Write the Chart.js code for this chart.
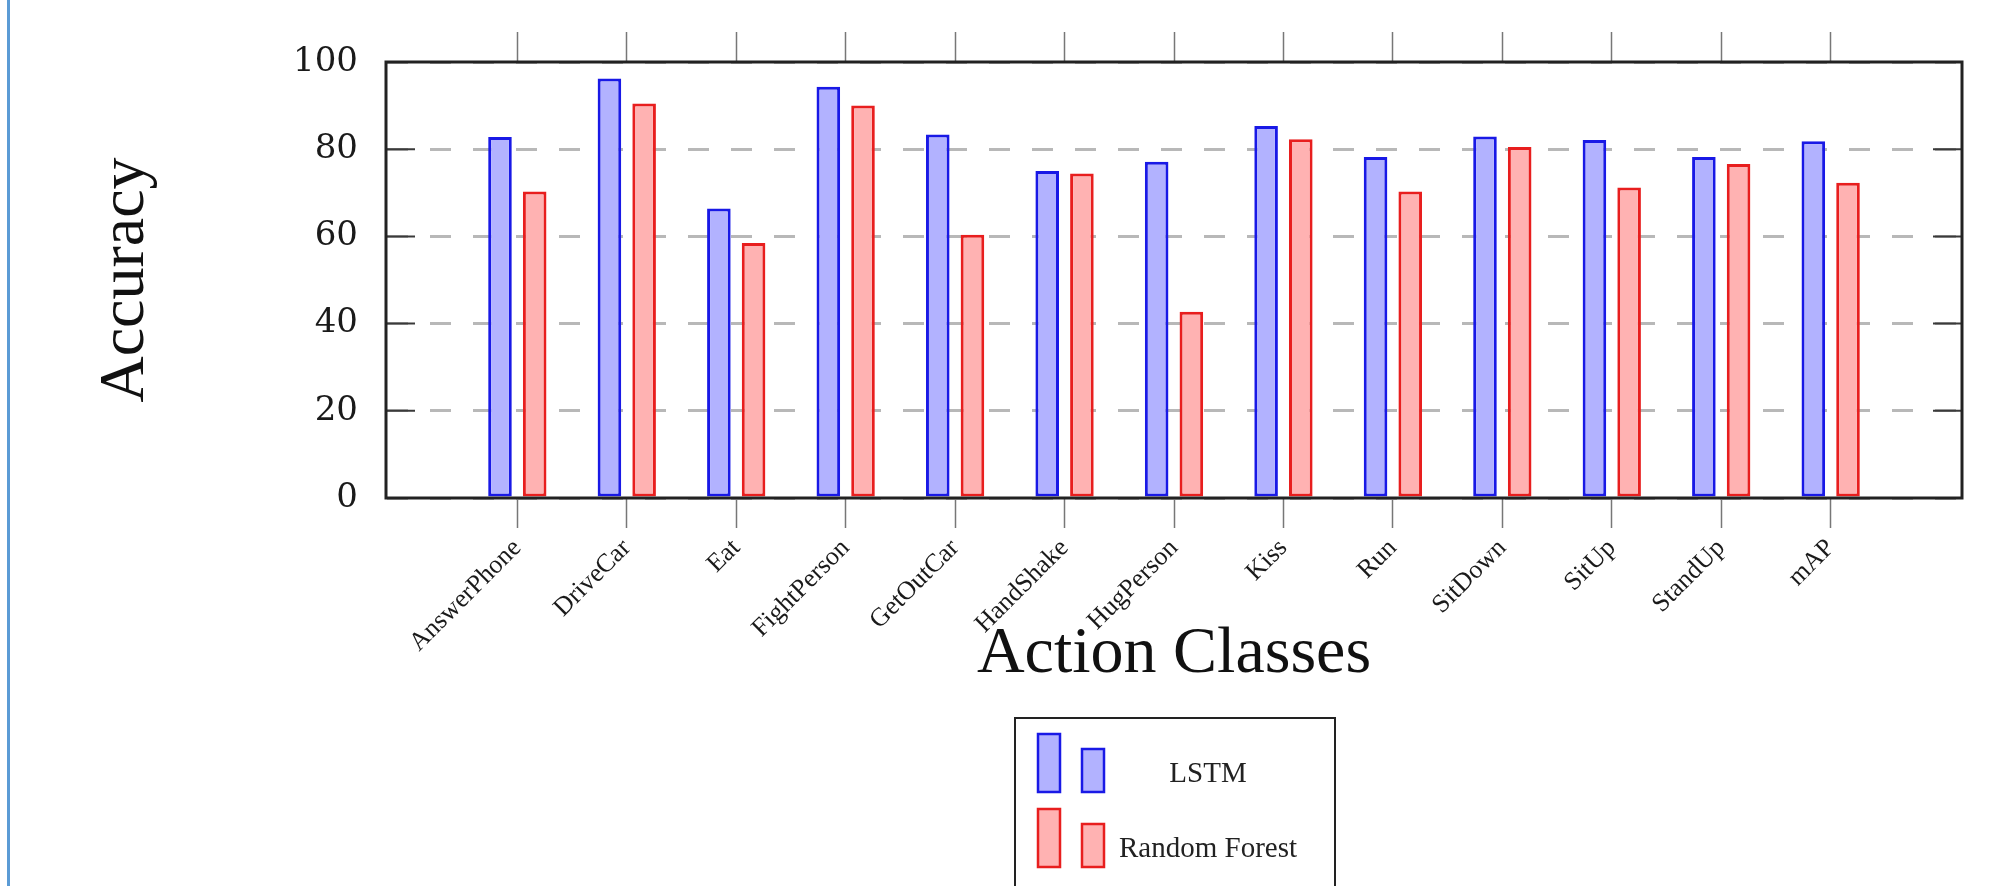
<!DOCTYPE html>
<html>
<head>
<meta charset="utf-8">
<script src="https://cdn.jsdelivr.net/npm/chart.js@4.4.1/dist/chart.umd.min.js"></script>
<style>
  html, body { margin: 0; padding: 0; background: #fff; }
  #wrap { position: relative; width: 2008px; height: 886px; overflow: hidden; }
  #edge { position: absolute; left: 7px; top: 0; width: 3px; height: 886px; background: #5b9bd5; }
</style>
</head>
<body>
<div id="wrap">
  <canvas id="accuracyChart" width="2008" height="886"></canvas>
  <div id="edge"></div>
</div>
<script>
// values
const categories = ["AnswerPhone", "DriveCar", "Eat", "FightPerson", "GetOutCar", "HandShake",
  "HugPerson", "Kiss", "Run", "SitDown", "SitUp", "StandUp", "mAP"];
const lstmAcc = [82.8, 96.2, 66.4, 94.3, 83.4, 75.0, 77.1, 85.3, 78.2, 82.9, 82.1, 78.2, 81.8];
const forestAcc = [70.3, 90.5, 58.5, 90.0, 60.4, 74.4, 42.7, 82.3, 70.3, 80.5, 71.2, 76.6, 72.3];
const yTicks = [0, 20, 40, 60, 80, 100];
const seriesNames = ["LSTM", "Random Forest"];

const serif = "'Liberation Serif', 'Times New Roman', serif";
const blueFill = "rgb(178,178,255)";
const blueLine = "rgb(25,25,230)";
const redFill = "rgb(255,178,178)";
const redLine = "rgb(232,30,30)";

function catTicks(scale) {
  scale.ticks = categories.map((c, i) => ({ value: i }));
}

// plot frame + short inner y ticks
const framePlugin = {
  id: "frame",
  afterDatasetsDraw(chart) {
    const { ctx, chartArea: a, scales } = chart;
    ctx.save();
    ctx.strokeStyle = "#3a3a3a";
    ctx.lineWidth = 2;
    yTicks.forEach((v) => {
      const py = scales.y.getPixelForValue(v);
      ctx.beginPath();
      ctx.moveTo(a.left, py);
      ctx.lineTo(a.left + 29, py);
      ctx.moveTo(a.right - 29, py);
      ctx.lineTo(a.right, py);
      ctx.stroke();
    });
    ctx.strokeStyle = "#222";
    ctx.lineWidth = 3;
    ctx.strokeRect(a.left, a.top, a.right - a.left, a.bottom - a.top);
    ctx.restore();
  },
};

// legend box under the axis title
const legendPlugin = {
  id: "boxLegend",
  afterDraw(chart) {
    const ctx = chart.ctx;
    ctx.save();
    ctx.strokeStyle = "#222";
    ctx.lineWidth = 2;
    ctx.strokeRect(1015, 718, 320, 200);
    chart.data.datasets.forEach((ds, i) => {
      const dy = i * 75;
      ctx.fillStyle = ds.backgroundColor;
      ctx.strokeStyle = ds.borderColor;
      ctx.lineWidth = 2.5;
      ctx.fillRect(1038, 734 + dy, 22, 58);
      ctx.strokeRect(1038, 734 + dy, 22, 58);
      ctx.fillRect(1082, 749 + dy, 22, 43);
      ctx.strokeRect(1082, 749 + dy, 22, 43);
      ctx.fillStyle = "#222";
      ctx.font = "29px " + serif;
      ctx.textAlign = "center";
      ctx.textBaseline = "alphabetic";
      ctx.fillText(ds.label, 1208, 782 + dy);
    });
    ctx.restore();
  },
};

const xGrid = { drawOnChartArea: false, drawTicks: true, offset: false, tickLength: 30, tickColor: "#777", tickWidth: 1.5 };

new Chart("accuracyChart", {
  type: "bar",
  plugins: [framePlugin, legendPlugin],
  data: {
    datasets: [
      {
        label: seriesNames[0],
        data: categories.map((c, i) => ({ x: i, y: lstmAcc[i] })),
        backgroundColor: blueFill,
        borderColor: blueLine,
        borderWidth: 3,
        borderSkipped: false,
      },
      {
        label: seriesNames[1],
        data: categories.map((c, i) => ({ x: i, y: forestAcc[i] })),
        backgroundColor: redFill,
        borderColor: redLine,
        borderWidth: 3,
        borderSkipped: false,
      },
    ],
  },
  options: {
    responsive: false,
    animation: false,
    devicePixelRatio: 1,
    layout: { padding: { left: 0, right: 46, top: 0, bottom: 0 } },
    datasets: { bar: { categoryPercentage: 0.634, barPercentage: 0.68 } },
    plugins: { legend: { display: false }, tooltip: { enabled: false } },
    scales: {
      x: {
        type: "linear",
        position: "bottom",
        offset: false,
        min: -1.2,
        max: 13.2,
        afterBuildTicks: catTicks,
        afterFit: (s) => { s.height = 388; },
        border: { display: false },
        grid: xGrid,
        ticks: {
          autoSkip: false,
          minRotation: 45,
          maxRotation: 45,
          padding: 5,
          color: "#1a1a1a",
          font: { family: serif, size: 26 },
          callback: (v) => categories[v],
        },
        title: {
          display: true,
          text: "Action Classes",
          color: "#111",
          font: { family: serif, size: 66 },
          padding: { top: 0, bottom: 192 },
        },
      },
      xTop: {
        type: "linear",
        position: "top",
        offset: false,
        min: -1.2,
        max: 13.2,
        afterBuildTicks: catTicks,
        afterFit: (s) => { s.height = 62; },
        border: { display: false },
        grid: xGrid,
        ticks: { display: false },
      },
      y: {
        min: 0,
        max: 100,
        afterBuildTicks: (s) => { s.ticks = yTicks.map((v) => ({ value: v })); },
        afterFit: (s) => { s.width = 386; },
        border: { display: false, dash: [21, 22], dashOffset: -1 },
        grid: { color: "#b8b8b8", lineWidth: 3, drawTicks: false },
        ticks: {
          padding: 28,
          color: "#1a1a1a",
          font: { family: "'DejaVu Serif', serif", size: 34 },
        },
        title: {
          display: true,
          text: "Accuracy",
          color: "#111",
          font: { family: serif, size: 64 },
          padding: { top: 88, bottom: 0 },
        },
      },
    },
  },
});
</script>
</body>
</html>
